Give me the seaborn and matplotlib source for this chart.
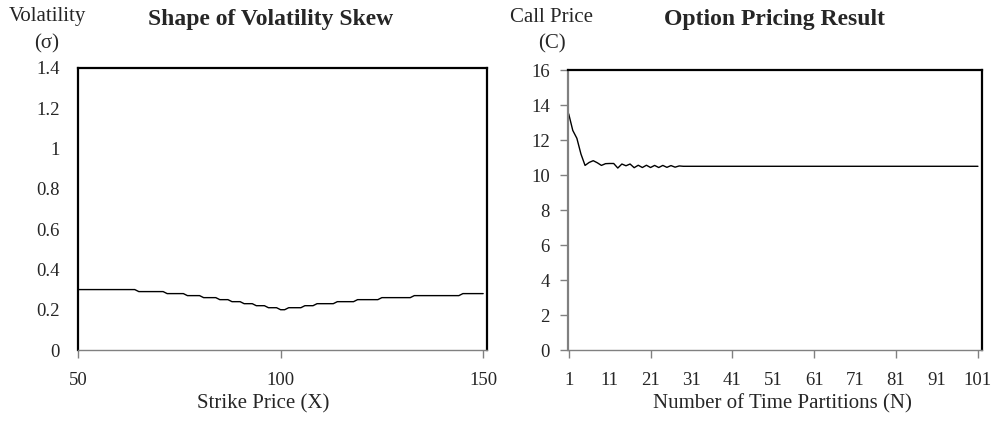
import numpy as np
import pandas as pd
import matplotlib
matplotlib.use("Agg")
import matplotlib.pyplot as plt
import matplotlib.ticker as mticker
import seaborn as sns

# Volatility skew data: strike 50..150
strike = list(range(50, 151))
volatility = (
    [0.30] * 15 + [0.29] * 7 + [0.28] * 5 + [0.27] * 4 + [0.26] * 4
    + [0.25] * 3 + [0.24] * 3 + [0.23] * 3 + [0.22] * 3 + [0.21] * 3
    + [0.20] * 2 + [0.21] * 4 + [0.22] * 3 + [0.23] * 5 + [0.24] * 5
    + [0.25] * 6 + [0.26] * 8 + [0.27] * 12 + [0.28] * 6
)

# Option pricing result: N = 1..101
partitions = list(range(1, 102))
call_price = [
    13.50, 12.55, 12.10, 11.20, 10.55, 10.72, 10.82, 10.70, 10.55, 10.65,
    10.66, 10.66, 10.40, 10.63, 10.53, 10.63, 10.42, 10.56, 10.43, 10.56,
    10.43, 10.55, 10.43, 10.55, 10.44, 10.54, 10.45, 10.52,
] + [10.50] * 73

skew_df = pd.DataFrame({"Strike": strike, "Vol": volatility})
price_df = pd.DataFrame({"N": partitions, "C": call_price})

sns.set_theme(style="white")
plt.rcParams["font.family"] = ["Liberation Serif", "DejaVu Serif"]

TICK_FS = 13.5
LABEL_FS = 15
TITLE_FS = 17

fig = plt.figure(figsize=(9.98, 4.21), dpi=100)
ax1 = fig.add_axes([0.0782, 0.1686, 0.410, 0.670])
ax2 = fig.add_axes([0.569, 0.1686, 0.415, 0.665])

fmt = mticker.FuncFormatter(lambda v, p: f"{v:g}")

# Left: volatility skew
sns.lineplot(data=skew_df, x="Strike", y="Vol", ax=ax1, color="black", lw=1.0)
ax1.set_xlim(50, 151)
ax1.set_ylim(0, 1.4)
ax1.set_xticks([50, 100, 150])
ax1.set_yticks(np.arange(0, 1.41, 0.2))
ax1.yaxis.set_major_formatter(fmt)
ax1.tick_params(axis="x", direction="out", length=6, width=1, color="#808080",
                pad=10, labelsize=TICK_FS, bottom=True)
ax1.tick_params(axis="y", length=0, pad=13, labelsize=TICK_FS)
ax1.set_xlabel("")
ax1.set_ylabel("")

# Right: option pricing
sns.lineplot(data=price_df, x="N", y="C", ax=ax2, color="black", lw=1.0)
ax2.set_xlim(0.8, 102)
ax2.set_ylim(0, 16)
ax2.set_xticks(range(1, 102, 20))
ax2.set_xticks(range(11, 100, 20), labels=[str(v) for v in range(11, 100, 20)], minor=True)
ax2.set_yticks(range(0, 17, 2))
ax2.tick_params(axis="x", which="major", direction="out", length=6, width=1,
                color="#808080", pad=10, labelsize=TICK_FS, bottom=True)
ax2.tick_params(axis="x", which="minor", length=0, pad=16, labelsize=TICK_FS, bottom=True)
ax2.tick_params(axis="y", direction="out", length=6, width=1, color="#808080",
                pad=7, labelsize=TICK_FS, left=True)
ax2.set_xlabel("")
ax2.set_ylabel("")

for ax in (ax1, ax2):
    for side in ("top", "right", "left"):
        ax.spines[side].set_color("black")
        ax.spines[side].set_linewidth(1.6)
    ax.spines["bottom"].set_color("#808080")
    ax.spines["bottom"].set_linewidth(1.0)
ax2.spines["left"].set_color("#808080")

# Titles and axis labels
fig.text(271 / 998, 1 - 20 / 421, "Shape of Volatility Skew", ha="center", va="center",
         fontsize=TITLE_FS, fontweight="bold")
fig.text(775 / 998, 1 - 20 / 421, "Option Pricing Result", ha="center", va="center",
         fontsize=TITLE_FS, fontweight="bold")
fig.text(47 / 998, 1 - 17 / 421, "Volatility", ha="center", va="center", fontsize=LABEL_FS)
fig.text(47 / 998, 1 - 44 / 421, "(σ)", ha="center", va="center", fontsize=LABEL_FS)
fig.text(551 / 998, 1 - 17 / 421, "Call Price", ha="center", va="center", fontsize=LABEL_FS)
fig.text(552 / 998, 1 - 44 / 421, "(C)", ha="center", va="center", fontsize=LABEL_FS)
fig.text(263 / 998, 1 - 404 / 421, "Strike Price (X)", ha="center", va="center",
         fontsize=LABEL_FS)
fig.text(782 / 998, 1 - 404 / 421, "Number of Time Partitions (N)", ha="center", va="center",
         fontsize=LABEL_FS)

fig.savefig("out.png", dpi=100)
